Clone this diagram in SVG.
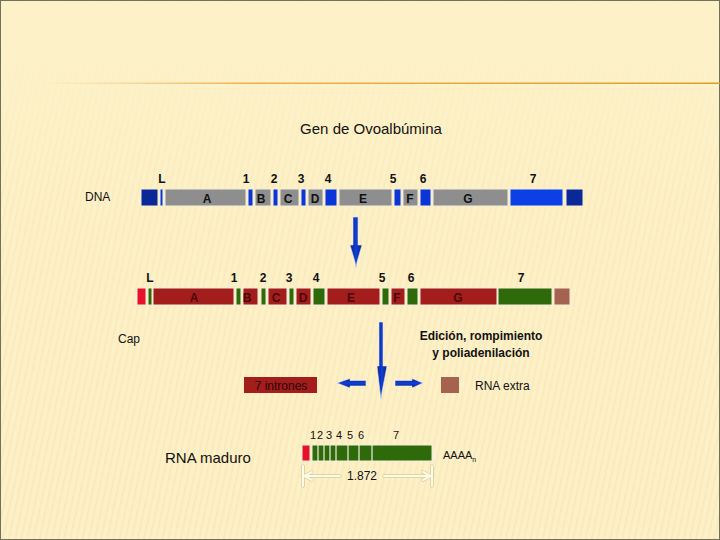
<svg xmlns="http://www.w3.org/2000/svg" width="720" height="540" viewBox="0 0 720 540">
<defs>
<style>
text{font-family:"Liberation Sans",Arial,sans-serif;}
.num{font-size:12px;font-weight:bold;fill:#111;text-anchor:middle;}
.let{font-size:12px;font-weight:bold;fill:#111;text-anchor:middle;}
.rlet{font-size:12px;font-weight:bold;fill:#4a0808;text-anchor:middle;}
.lbl{font-size:12px;fill:#111;}
.seg{stroke:#f3eedc;stroke-width:1;}
.db{fill:#0b2996;}
.bl{fill:#0b35d6;}
.lb{fill:#0d3fe6;}
.gr{fill:#8e8e8e;}
.rd{fill:#a31d1d;}
.gn{fill:#2f6a0a;}
.br{fill:#e8102b;}
.bn{fill:#a5624f;}
.arr{fill:url(#ablue);stroke:#e8e8f0;stroke-width:0.6;}
.harr{fill:url(#hblue);stroke:#e8e8f0;stroke-width:0.6;}
</style>
<linearGradient id="ablue" x1="0" y1="0" x2="1" y2="0">
<stop offset="0" stop-color="#0a1f80"/>
<stop offset="0.5" stop-color="#1040d8"/>
<stop offset="1" stop-color="#0a1f80"/>
</linearGradient>
<linearGradient id="hblue" x1="0" y1="0" x2="0" y2="1">
<stop offset="0" stop-color="#0a1f80"/>
<stop offset="0.5" stop-color="#1040d8"/>
<stop offset="1" stop-color="#0a1f80"/>
</linearGradient>
<linearGradient id="rule" x1="0" y1="0" x2="1" y2="0">
<stop offset="0" stop-color="#f0c070" stop-opacity="0"/>
<stop offset="0.3" stop-color="#f0b050"/>
<stop offset="1" stop-color="#d8a030"/>
</linearGradient>
<linearGradient id="fade" x1="0" y1="0" x2="0" y2="1">
<stop offset="0" stop-color="#fdf1c8" stop-opacity="1"/>
<stop offset="0.1" stop-color="#fdf1c8" stop-opacity="0.95"/>
<stop offset="0.35" stop-color="#fdf1c8" stop-opacity="0.5"/>
<stop offset="1" stop-color="#fdf1c8" stop-opacity="0.3"/>
</linearGradient>
<pattern id="stripes" width="6" height="6" patternUnits="userSpaceOnUse" patternTransform="rotate(12)">
<rect width="6" height="6" fill="#fdf0c6"/>
<rect width="1.5" height="6" fill="#f7e4b0"/>
</pattern>
</defs>
<rect width="720" height="540" fill="url(#stripes)"/>
<rect x="0" y="0" width="720" height="540" fill="url(#fade)"/>
<rect x="0.5" y="0.5" width="719" height="539" fill="none" stroke="#707060" stroke-width="1"/>
<rect x="40" y="82.5" width="680" height="1.5" fill="url(#rule)"/>

<g id="title"><text x="371" y="134" font-size="15" text-anchor="middle" fill="#111">Gen de Ovoalbúmina</text></g>

<g id="dna">
<text x="85" y="201" class="lbl">DNA</text>
<rect class="seg db" x="141" y="189" width="17" height="17"/>
<rect class="seg bl" x="160" y="189" width="3" height="17"/>
<rect class="seg gr" x="165" y="189" width="81" height="17"/>
<rect class="seg bl" x="248" y="189" width="5" height="17"/>
<rect class="seg gr" x="255" y="189" width="16" height="17"/>
<rect class="seg bl" x="273" y="189" width="5" height="17"/>
<rect class="seg gr" x="280" y="189" width="19" height="17"/>
<rect class="seg bl" x="301" y="189" width="5" height="17"/>
<rect class="seg gr" x="308" y="189" width="15" height="17"/>
<rect class="seg bl" x="325" y="189" width="12" height="17"/>
<rect class="seg gr" x="339" y="189" width="53" height="17"/>
<rect class="seg bl" x="394" y="189" width="7" height="17"/>
<rect class="seg gr" x="403" y="189" width="15" height="17"/>
<rect class="seg bl" x="420" y="189" width="11" height="17"/>
<rect class="seg gr" x="433" y="189" width="75" height="17"/>
<rect class="seg lb" x="510" y="189" width="53" height="17"/>
<rect class="seg db" x="566" y="189" width="17" height="17"/>
<text class="num" x="162" y="183">L</text>
<text class="num" x="246" y="183">1</text>
<text class="num" x="274" y="183">2</text>
<text class="num" x="301" y="183">3</text>
<text class="num" x="328" y="183">4</text>
<text class="num" x="393" y="183">5</text>
<text class="num" x="423" y="183">6</text>
<text class="num" x="533" y="183">7</text>
<text class="let" x="207" y="203">A</text>
<text class="let" x="261" y="203">B</text>
<text class="let" x="288" y="203">C</text>
<text class="let" x="315" y="203">D</text>
<text class="let" x="363" y="203">E</text>
<text class="let" x="410" y="203">F</text>
<text class="let" x="468" y="203">G</text>
</g>

<g id="prerna">
<rect class="seg br" x="137" y="288" width="9" height="17"/>
<rect class="seg gn" x="148" y="288" width="4" height="17"/>
<rect class="seg rd" x="153" y="288" width="81" height="17"/>
<rect class="seg gn" x="236" y="288" width="5" height="17"/>
<rect class="seg rd" x="243" y="288" width="15" height="17"/>
<rect class="seg gn" x="261" y="288" width="5" height="17"/>
<rect class="seg rd" x="268" y="288" width="19" height="17"/>
<rect class="seg gn" x="289" y="288" width="5" height="17"/>
<rect class="seg rd" x="296" y="288" width="15" height="17"/>
<rect class="seg gn" x="313" y="288" width="12" height="17"/>
<rect class="seg rd" x="327" y="288" width="53" height="17"/>
<rect class="seg gn" x="382" y="288" width="7" height="17"/>
<rect class="seg rd" x="391" y="288" width="14" height="17"/>
<rect class="seg gn" x="407" y="288" width="11" height="17"/>
<rect class="seg rd" x="420" y="288" width="77" height="17"/>
<rect class="seg gn" x="498" y="288" width="54" height="17"/>
<rect class="seg bn" x="554" y="288" width="16" height="17"/>
<text class="num" x="150" y="282">L</text>
<text class="num" x="234" y="282">1</text>
<text class="num" x="263" y="282">2</text>
<text class="num" x="289" y="282">3</text>
<text class="num" x="316" y="282">4</text>
<text class="num" x="382" y="282">5</text>
<text class="num" x="411" y="282">6</text>
<text class="num" x="521" y="282">7</text>
<text class="rlet" x="194" y="302">A</text>
<text class="rlet" x="247" y="302">B</text>
<text class="rlet" x="276" y="302">C</text>
<text class="rlet" x="303" y="302">D</text>
<text class="rlet" x="351" y="302">E</text>
<text class="rlet" x="397" y="302">F</text>
<text class="rlet" x="458" y="302">G</text>
</g>

<g id="cap"><text x="118" y="343" class="lbl">Cap</text></g>

<g id="processing">
<text x="481" y="340" font-size="12" font-weight="bold" text-anchor="middle" fill="#111">Edición, rompimiento</text>
<text x="481" y="357" font-size="12" font-weight="bold" text-anchor="middle" fill="#111">y poliadenilación</text>
</g>

<g id="intrones">
<rect x="244" y="377" width="73" height="16" fill="#a31d1d"/>
<text x="281" y="390" font-size="12" text-anchor="middle" fill="#2a0505">7 intrones</text>
</g>

<g id="rnaextra">
<rect x="441" y="377" width="18" height="16" fill="#a5624f"/>
<text x="475" y="390" font-size="12" fill="#111">RNA extra</text>
</g>

<g id="connectors">
<polygon class="arr" points="353,217 358,217 358,245 362,245 357,262 356,268 355,262 350,245 353,245"/>
<polygon class="arr" points="379,322 383,322 383,366 387,366 382,392 381,400 380,392 377,366 379,366"/>
<polygon class="harr" points="366,380.5 366,386 350,386 350,388 337,383 350,378.5 350,380.5"/>
<polygon class="harr" points="395,380.5 412,380.5 412,378.5 423,383 412,388 412,386 395,386"/>
</g>

<g id="mrna">
<text x="165" y="463" font-size="15" fill="#111">RNA maduro</text>
<rect class="seg br" x="302" y="445" width="8" height="16"/>
<rect class="seg gn" x="312" y="445" width="120" height="16"/>
<g stroke="#f3eedc" stroke-width="1.2">
<line x1="318" y1="445" x2="318" y2="461"/>
<line x1="324" y1="445" x2="324" y2="461"/>
<line x1="330" y1="445" x2="330" y2="461"/>
<line x1="336" y1="445" x2="336" y2="461"/>
<line x1="348" y1="445" x2="348" y2="461"/>
<line x1="359" y1="445" x2="359" y2="461"/>
<line x1="372" y1="445" x2="372" y2="461"/>
<line x1="433" y1="441" x2="433" y2="465"/>
<line x1="433" y1="453" x2="438" y2="453"/>
</g>
<text x="313" y="439" font-size="11" text-anchor="middle" fill="#111">1</text>
<text x="320" y="439" font-size="11" text-anchor="middle" fill="#111">2</text>
<text x="329" y="439" font-size="11" text-anchor="middle" fill="#111">3</text>
<text x="339" y="439" font-size="11" text-anchor="middle" fill="#111">4</text>
<text x="350" y="439" font-size="11" text-anchor="middle" fill="#111">5</text>
<text x="361" y="439" font-size="11" text-anchor="middle" fill="#111">6</text>
<text x="396" y="439" font-size="11" text-anchor="middle" fill="#111">7</text>
<text x="443" y="459" font-size="11" fill="#111">AAAA<tspan font-size="7" dy="3">n</tspan></text>
<g fill="none" stroke-linecap="round">
<g stroke="#d6cc9a" stroke-width="3.5">
<line x1="303" y1="466" x2="303" y2="486"/>
<line x1="432" y1="466" x2="432" y2="486"/>
<line x1="304" y1="476" x2="340" y2="476"/>
<line x1="384" y1="476" x2="431" y2="476"/>
<polyline points="312,472 304,476 312,480"/>
<polyline points="423,472 431,476 423,480"/>
</g>
<g stroke="#fffbe6" stroke-width="2">
<line x1="303" y1="466" x2="303" y2="486"/>
<line x1="432" y1="466" x2="432" y2="486"/>
<line x1="304" y1="476" x2="340" y2="476"/>
<line x1="384" y1="476" x2="431" y2="476"/>
<polyline points="312,472 304,476 312,480"/>
<polyline points="423,472 431,476 423,480"/>
</g>
</g>
<text x="362" y="480" font-size="12" text-anchor="middle" fill="#111">1.872</text>
</g>
</svg>
